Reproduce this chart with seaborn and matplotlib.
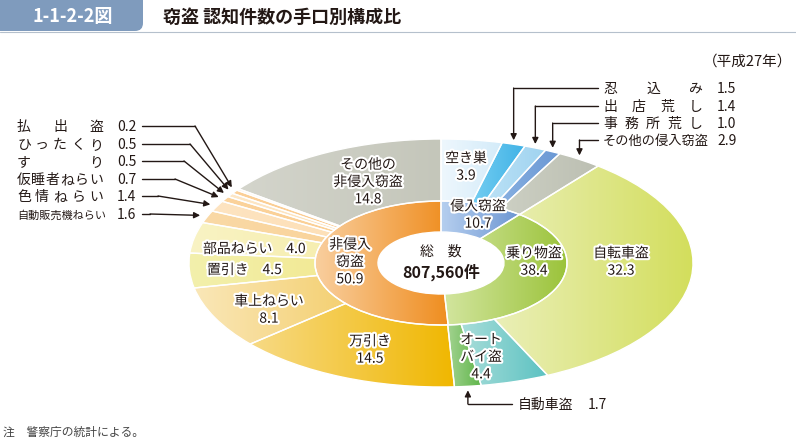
import numpy as np
import matplotlib
matplotlib.use("Agg")
import matplotlib.pyplot as plt
import matplotlib.patheffects as pe
from matplotlib.patches import FancyBboxPatch
import seaborn as sns

# ---- data (percent of all recognized thefts, 2015) ----
inner_labels = ["侵入窃盗", "乗り物盗", "非侵入窃盗"]
inner_values = [10.7, 38.4, 50.9]

outer_labels = [
    "空き巣", "忍込み", "出店荒し", "事務所荒し", "その他の侵入窃盗",
    "自転車盗", "オートバイ盗", "自動車盗",
    "万引き", "車上ねらい", "置引き", "部品ねらい", "自動販売機ねらい",
    "色情ねらい", "仮睡者ねらい", "すり", "ひったくり", "払出盗",
    "その他の非侵入窃盗",
]
outer_values = [
    3.9, 1.5, 1.4, 1.0, 2.9,
    32.3, 4.4, 1.7,
    14.5, 8.1, 4.5, 4.0, 1.6, 1.4, 0.7, 0.5, 0.5, 0.2, 14.8,
]
total_cases = "807,560"

# gradient colours (left, right) per wedge
inner_colors = [("#b6cfef", "#6d96d2"), ("#d2e59e", "#9bc33a"), ("#f9cf9f", "#ef8d1f")]
outer_colors = [
    ("#eef7fd", "#d3ebf9"), ("#74cdf1", "#3fb2e6"), ("#bde2f6", "#9fd3f0"),
    ("#8bb2e2", "#6a98d4"), ("#cdd0c4", "#bcbfb2"),
    ("#eaefb8", "#d3de5c"), ("#a8ddd9", "#5cc2c2"), ("#a2d28e", "#5db54a"),
    ("#f7da86", "#f0b700"), ("#fae7b8", "#f4d072"), ("#f3f0ac", "#f2ea96"),
    ("#f9f3c4", "#f6eeb0"), ("#fad9a6", "#f9d49c"), ("#fde4c1", "#fde0b8"),
    ("#fbd39c", "#fbcf94"), ("#fde7c6", "#fde3bd"), ("#fbd098", "#fbcb8e"),
    ("#fde2b8", "#fdddb0"), ("#d4d5cc", "#c4c6ba"),
]

# ---- layout in pixels ----
W, H = 796, 439
CX, CY, RX, RY = 441, 264, 252, 124
TXT = "#231815"

sns.set_theme(style="white")
plt.rcParams["font.family"] = ["Noto Sans CJK JP", "DejaVu Sans"]

fig = plt.figure(figsize=(W / 100, H / 100), dpi=100)
ax = fig.add_axes([0, 0, 1, 1])

wedge_kw = dict(edgecolor="white", linewidth=1.0)
outer_wedges, _ = ax.pie(outer_values, radius=1.0, startangle=90, counterclock=False,
                         wedgeprops=dict(width=0.5, **wedge_kw))
inner_wedges, _ = ax.pie(inner_values, radius=0.5, startangle=90, counterclock=False,
                         wedgeprops=dict(width=0.25, **wedge_kw))


def fill_gradient(wedge, c1, c2):
    bb = wedge.get_path().get_extents()
    cmap = sns.blend_palette([c1, c2], as_cmap=True)
    grad = np.linspace(0, 1, 256).reshape(1, -1)
    im = ax.imshow(grad, cmap=cmap, extent=[bb.x0, bb.x1, bb.y0, bb.y1],
                   aspect="auto", origin="lower", interpolation="bilinear", zorder=0.5)
    im.set_clip_path(wedge)
    wedge.set_facecolor("none")
    wedge.set_zorder(1)


for w, (c1, c2) in zip(outer_wedges, outer_colors):
    fill_gradient(w, c1, c2)
for w, (c1, c2) in zip(inner_wedges, inner_colors):
    fill_gradient(w, c1, c2)

ax.set_aspect("auto")
ax.set_xlim(-CX / RX, (W - CX) / RX)
ax.set_ylim(-(H - CY) / RY, CY / RY)
ax.axis("off")

# overlay axes in pixel coordinates for all text
tx = fig.add_axes([0, 0, 1, 1])
tx.set_xlim(0, W)
tx.set_ylim(H, 0)
tx.axis("off")
tx.patch.set_alpha(0)


def edge_px(wedge, r=1.03):
    th = np.deg2rad((wedge.theta1 + wedge.theta2) / 2)
    return CX + r * RX * np.cos(th), CY - r * RY * np.sin(th)


halo = [pe.withStroke(linewidth=3, foreground="white")]


def label(x, y, s, size=10, ha="center", **kw):
    tx.text(x, y, s, fontsize=size, ha=ha, va="center", color=TXT,
            linespacing=1.3, path_effects=halo, multialignment="center", **kw)


def spread(s, x0, x1, y, size=10):
    cw = size * 100 / 72
    n = len(s)
    xs = np.linspace(x0 + cw / 2, x1 - cw / 2, n)
    for ch, x in zip(s, xs):
        tx.text(x, y, ch, fontsize=size, ha="center", va="center", color=TXT)


# header
tx.add_patch(FancyBboxPatch((-20, -20), 163, 52, boxstyle="round,pad=0,rounding_size=8",
                            facecolor="#7f9bbd", edgecolor="none"))
tx.plot([0, W], [32.5, 32.5], color="#b5c0cc", lw=0.8)
tx.text(33, 17, "1-1-2-2図", fontsize=13, color="white", fontweight="bold",
        ha="left", va="center")
tx.text(163, 17, "窃盗 認知件数の手口別構成比", fontsize=13, color=TXT,
        fontweight="bold", ha="left", va="center")
tx.text(792, 62, "（平成27年）", fontsize=10.5, color=TXT, ha="right", va="center")
tx.text(3, 432, "注　警察庁の統計による。", fontsize=8.5, color="#444444",
        ha="left", va="center")

# labels inside the rings
label(466, 168, "空き巣\n3.9")
label(478, 216, "侵入窃盗\n10.7")
label(534, 263, "乗り物盗\n38.4")
label(350, 263, "非侵入\n窃盗\n50.9")
label(621, 263, "自転車盗\n32.3")
label(481, 358, "オート\nバイ盗\n4.4")
label(370, 351, "万引き\n14.5")
label(269, 311, "車上ねらい\n8.1")
label(207, 271, "置引き　4.5", ha="left")
label(203, 250, "部品ねらい　4.0", ha="left")
label(368, 183, "その他の\n非侵入窃盗\n14.8")
tx.text(441, 252, "総　数", fontsize=10, ha="center", va="center", color=TXT)
tx.text(441, 272, total_cases + "件", fontsize=11.5, ha="center", va="center",
        color=TXT, fontweight="bold")

arrow = dict(arrowstyle="-|>", lw=1, color=TXT, shrinkA=0, shrinkB=0, mutation_scale=9)
idx = {name: i for i, name in enumerate(outer_labels)}

# left callouts
left_rows = [("払出盗", "払　出　盗", 127, 195), ("ひったくり", "ひったくり", 145, 190),
             ("すり", "す　　　り", 162, 184), ("仮睡者ねらい", "仮睡者ねらい", 180, 175),
             ("色情ねらい", "色情ねらい", 197, 158), ("自動販売機ねらい", None, 215, 150)]
for key, disp, y, xe in left_rows:
    v = outer_values[idx[key]]
    if disp is None:
        tx.text(17, y, key, fontsize=8, ha="left", va="center", color=TXT)
    else:
        spread(disp, 17, 103, y)
    tx.text(117, y, f"{v:.1f}", fontsize=10, ha="left", va="center", color=TXT)
    tgt = edge_px(outer_wedges[idx[key]])
    tx.plot([142, xe], [y, y], color=TXT, lw=1)
    tx.annotate("", xy=tgt, xytext=(xe, y), arrowprops=arrow)

# right callouts
right_rows = [("忍込み", "忍　込　み", 89), ("出店荒し", "出店荒し", 107),
              ("事務所荒し", "事務所荒し", 124), ("その他の侵入窃盗", None, 141)]
for key, disp, y in right_rows:
    v = outer_values[idx[key]]
    if disp is None:
        tx.text(603, y, key, fontsize=9.5, ha="left", va="center", color=TXT)
    else:
        spread(disp, 603, 703, y)
    tx.text(717, y, f"{v:.1f}", fontsize=10, ha="left", va="center", color=TXT)
    xt, yt = edge_px(outer_wedges[idx[key]], 1.0)
    tx.plot([598, xt], [y, y], color=TXT, lw=1)
    tx.annotate("", xy=(xt, yt - 4), xytext=(xt, y), arrowprops=arrow)

# bottom callout
key = "自動車盗"
xt, yt = edge_px(outer_wedges[idx[key]], 1.0)
tx.plot([xt, 512], [405, 405], color=TXT, lw=1)
tx.annotate("", xy=(xt, yt + 4), xytext=(xt, 405), arrowprops=arrow)
tx.text(518, 405, key, fontsize=10, ha="left", va="center", color=TXT)
tx.text(588, 405, f"{outer_values[idx[key]]:.1f}", fontsize=10, ha="left",
        va="center", color=TXT)

fig.savefig("out.png", dpi=100)
